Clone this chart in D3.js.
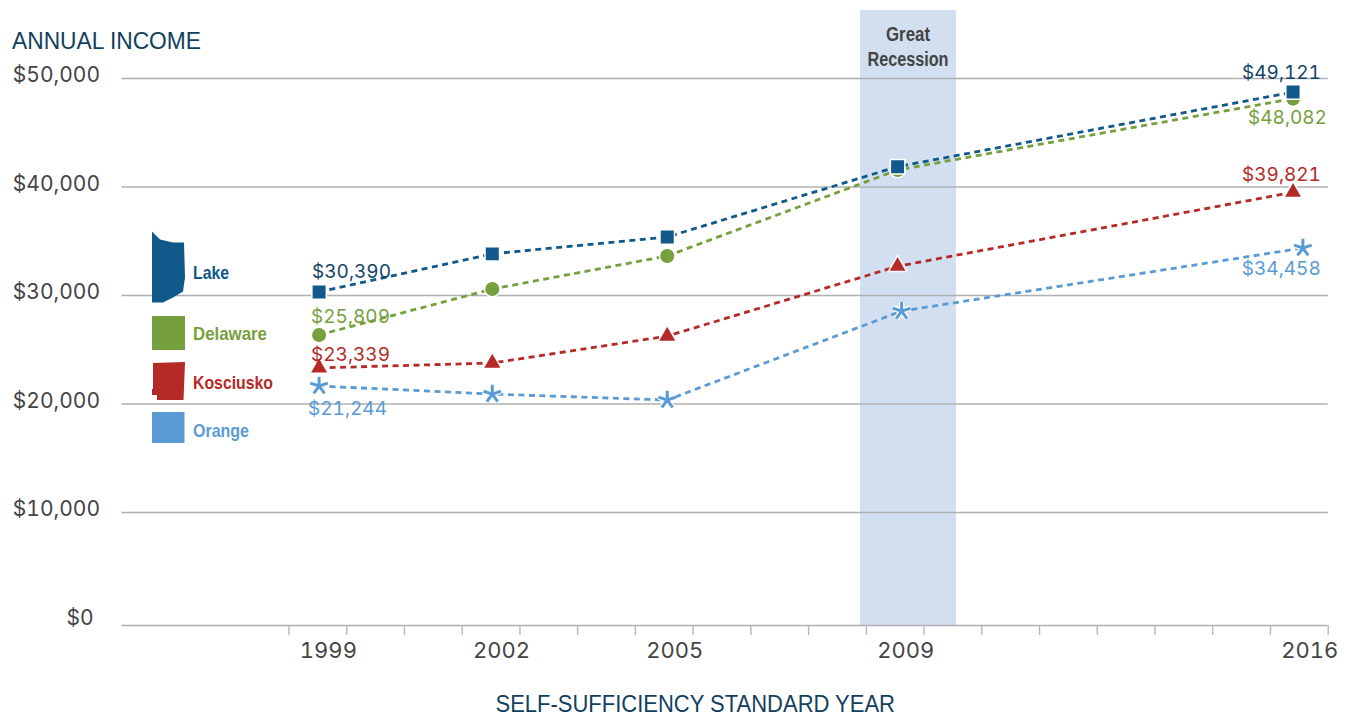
<!DOCTYPE html>
<html>
<head>
<meta charset="utf-8">
<script src="https://cdn.jsdelivr.net/npm/d3@7"></script>
<style>
  html, body { margin: 0; padding: 0; background: #fff; }
  svg { display: block; }
  text { font-family: Inter, "Liberation Sans", sans-serif; font-variant-numeric: tabular-nums; }
  .narrow { font-family: "Liberation Sans", sans-serif; font-weight: 700; }
  .axis-title { font-family: "Liberation Sans", sans-serif; fill: #123f5e; }
  .tick text { fill: #444; }
</style>
</head>
<body>
<div id="chart"></div>
<script>
// DATA
const years = [1999, 2002, 2005, 2009, 2016];
// the points sit a little off the year centres in the original
const pointYears = [1999.03, 2002.03, 2005.06, 2009.05, 2015.9];
const orangeYears = [1999.03, 2002.03, 2005.06, 2009.12, 2016.07];
const yTicks = [0, 10000, 20000, 30000, 40000, 50000];

const lake = [30280, 33790, 35350, 41830, 48700];
const delaware = [26320, 30550, 33600, 41520, 48100];
const kosciusko = [23280, 23730, 26210, 32650, 39470];
const orange = [21610, 20870, 20320, 28520, 34330];

// printed labels, first and last year
const lakeLabels = [30390, 49121];
const delawareLabels = [25809, 48082];
const kosciuskoLabels = [23339, 39821];
const orangeLabels = [21244, 34458];

const recessionYears = [2008.4, 2010.06];

// CHART AREA
const W = 1350, H = 717;
const svg = d3.select("#chart").append("svg").attr("width", W).attr("height", H);

// SCALES
let x = d3.scaleLinear().domain([1998.5, 2016.5]).range([288.5, 1327.7]);
// bottom line sits a bit lower than the even spacing in the original
let y = d3.scaleLinear().domain([0, 10000, 50000]).range([625, 512, 78]);

const money = d3.format("$,");

// RECESSION BAND
svg.append("rect")
    .attr("x", x(recessionYears[0]))
    .attr("width", x(recessionYears[1]) - x(recessionYears[0]))
    .attr("y", 10)
    .attr("height", y(0) - 10)
    .attr("fill", "#d1dff0");

// AXES
let yAxis = d3.axisLeft(y)
    .tickValues(yTicks)
    .tickFormat(money)
    .tickSize(-(1327.7 - 121.5))
    .tickPadding(21.5);

let yAxisGroup = svg.append("g")
    .attr("transform", "translate(121.5,0)")
    .call(yAxis);
yAxisGroup.select(".domain").remove();
yAxisGroup.selectAll("line").attr("stroke", "#b0b0b2").attr("stroke-width", 1.4);
yAxisGroup.selectAll("text")
    .attr("font-size", 21)
    .attr("dy", 3.5)
    .filter(d => d === 0).attr("dx", -6.5).attr("dy", -1);

let xTickMarks = d3.axisBottom(x)
    .tickValues(d3.range(1998.5, 2017, 1))
    .tickFormat("")
    .tickSize(10);
let xTicksGroup = svg.append("g")
    .attr("transform", "translate(0," + y(0) + ")")
    .call(xTickMarks);
xTicksGroup.select(".domain").remove();
xTicksGroup.selectAll("line").attr("stroke", "#b8b8ba").attr("stroke-width", 1.4);

let xLabels = d3.axisBottom(x)
    .tickValues(years)
    .tickFormat(d3.format("d"))
    .tickSize(0)
    .tickPadding(17);
let xLabelsGroup = svg.append("g")
    .attr("transform", "translate(0," + y(0) + ")")
    .call(xLabels);
xLabelsGroup.select(".domain").remove();
xLabelsGroup.selectAll("text").attr("font-size", 22).attr("dx", 10.5);

svg.append("text").attr("class", "axis-title")
    .attr("x", 12).attr("y", 49)
    .attr("font-size", 24)
    .attr("textLength", 189).attr("lengthAdjust", "spacingAndGlyphs")
    .text("ANNUAL INCOME");

svg.append("text").attr("class", "axis-title")
    .attr("x", 495.5).attr("y", 712)
    .attr("font-size", 23)
    .attr("textLength", 399.5).attr("lengthAdjust", "spacingAndGlyphs")
    .text("SELF-SUFFICIENCY STANDARD YEAR");

// "Great Recession" note
const noteWidths = {Great: 44, Recession: 81};
svg.selectAll(".note")
    .data(["Great", "Recession"])
    .enter().append("text")
    .attr("class", "note narrow")
    .attr("x", 908)
    .attr("y", (d, i) => 41 + i * 25)
    .attr("text-anchor", "middle")
    .attr("font-size", 20)
    .attr("fill", "#444")
    .attr("textLength", d => noteWidths[d])
    .attr("lengthAdjust", "spacingAndGlyphs")
    .text(d => d);

// five armed asterisk, d3.symbolAsterisk only has six arms
const asterisk5 = {
    draw(context, size) {
        const r = Math.sqrt(size);
        for (let i = 0; i < 5; i++) {
            const a = i * 2 * Math.PI / 5;
            context.moveTo(0, 0);
            context.lineTo(r * Math.sin(a), -r * Math.cos(a));
        }
    }
};

// SERIES - drawn bottom to top
const series = [
    {name: "Orange", values: orange, at: orangeYears, labels: orangeLabels, color: "#5b9bd5", text: "#5b9bd5", symbol: asterisk5, size: 85,
     first: [-11, 22], last: [-61, 20]},
    {name: "Kosciusko", values: kosciusko, at: pointYears, labels: kosciuskoLabels, color: "#b52a26", text: "#b52a26", symbol: d3.symbolTriangle, size: 150,
     first: [-8, -14], last: [-51, -18]},
    {name: "Delaware", values: delaware, at: pointYears, labels: delawareLabels, color: "#76a03e", text: "#76a03e", symbol: d3.symbolCircle, size: 190,
     first: [-8, -19], last: [-45, 18]},
    {name: "Lake", values: lake, at: pointYears, labels: lakeLabels, color: "#10598a", text: "#134568", symbol: d3.symbolSquare, size: 210,
     first: [-7, -21], last: [-51, -20]}
];

series.forEach(s => {
    let line = d3.line()
        .x((d, i) => x(s.at[i]))
        .y(d => y(d));

    svg.append("path")
        .attr("d", line(s.values))
        .attr("fill", "none")
        .attr("stroke", s.color)
        .attr("stroke-width", 2.8)
        .attr("stroke-dasharray", "6 4.5");

    let marks = svg.selectAll(".mark-" + s.name)
        .data(s.values)
        .enter().append("g")
        .attr("class", "mark-" + s.name)
        .attr("transform", (d, i) => "translate(" + x(s.at[i]) + "," + y(d) + ")");

    let path = d3.symbol().type(s.symbol).size(s.size)();
    if (s.symbol === asterisk5) {
        marks.append("path").attr("d", path).attr("fill", "none").attr("stroke", "#fff").attr("stroke-width", 5.5);
        marks.append("path").attr("d", path).attr("fill", "none").attr("stroke", s.color).attr("stroke-width", 3);
    } else {
        marks.append("path").attr("d", path).attr("fill", s.color).attr("stroke", "#fff").attr("stroke-width", 1.5);
    }
});

// value labels on the first and last point
series.forEach(s => {
    const n = s.values.length - 1;
    [[0, s.first, s.labels[0]], [n, s.last, s.labels[1]]].forEach(([i, off, value]) => {
        svg.append("text")
            .attr("x", x(s.at[i]) + off[0])
            .attr("y", y(s.values[i]) + off[1] + 7)
            .attr("font-size", 19)
            .attr("fill", s.text)
            .text(money(value));
    });
});

// LEGEND - county outlines, local coordinates
const outlineLake = [[0,0],[8,8],[21,11],[32,11],[33,46],[31,60],[21,66],[11,71],[0,71]];
const outlineDelaware = [[0,0],[33,0],[33,34],[0,34]];
const outlineKosciusko = [[1,1],[33,0],[32,26],[31.5,38],[5,38],[5,33],[0,33],[0,27],[1,27]];
const outlineOrange = [[0,0],[32.5,0],[32.5,31],[0,31]];

const legendRows = [
    {name: "Lake", color: "#10598a", outline: outlineLake, top: 231.5, text: 279, width: 36},
    {name: "Delaware", color: "#76a03e", outline: outlineDelaware, top: 316, text: 340, width: 74},
    {name: "Kosciusko", color: "#b52a26", outline: outlineKosciusko, top: 362, text: 389, width: 80},
    {name: "Orange", color: "#5b9bd5", outline: outlineOrange, top: 412, text: 437, width: 56}
];

let shape = d3.line().curve(d3.curveLinearClosed);
let legend = svg.selectAll(".legend")
    .data(legendRows)
    .enter().append("g")
    .attr("class", "legend");

legend.append("path")
    .attr("transform", d => "translate(152," + d.top + ")")
    .attr("d", d => shape(d.outline))
    .attr("fill", d => d.color);

legend.append("text")
    .attr("class", "narrow")
    .attr("x", 193)
    .attr("y", d => d.text)
    .attr("font-size", 18.5)
    .attr("fill", d => d.color)
    .attr("textLength", d => d.width)
    .attr("lengthAdjust", "spacingAndGlyphs")
    .text(d => d.name);
</script>
</body>
</html>
